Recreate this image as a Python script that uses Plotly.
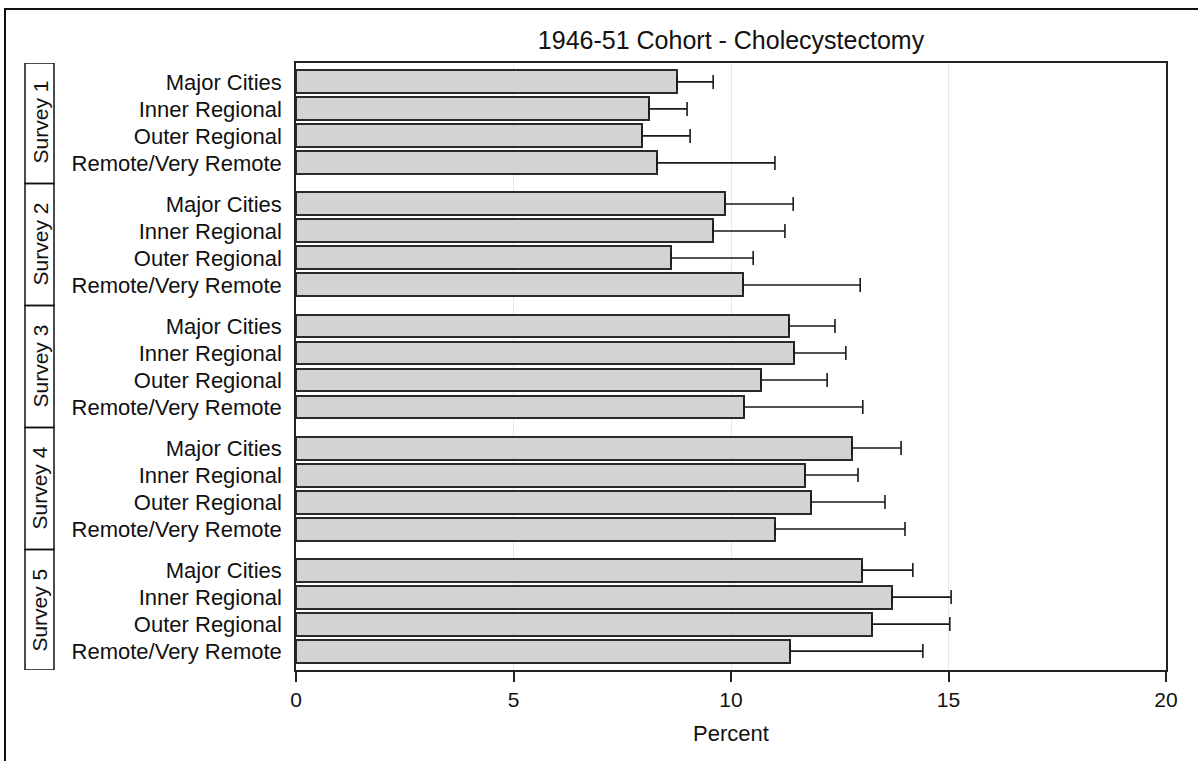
import plotly.graph_objects as go

# ---------------- data ----------------
surveys = ["Survey 1", "Survey 2", "Survey 3", "Survey 4", "Survey 5"]
regions = ["Major Cities", "Inner Regional", "Outer Regional", "Remote/Very Remote"]

pct_survey1 = [8.76, 8.11, 7.95, 8.30]
pct_survey2 = [9.86, 9.59, 8.62, 10.28]
pct_survey3 = [11.33, 11.45, 10.69, 10.30]
pct_survey4 = [12.78, 11.70, 11.84, 11.01]
pct_survey5 = [13.01, 13.70, 13.24, 11.36]

upper_survey1 = [9.59, 8.99, 9.06, 11.01]
upper_survey2 = [11.43, 11.24, 10.51, 12.97]
upper_survey3 = [12.39, 12.64, 12.21, 13.03]
upper_survey4 = [13.91, 12.92, 13.54, 14.00]
upper_survey5 = [14.18, 15.06, 15.03, 14.41]

x_ticks = [0, 5, 10, 15, 20]
title_text = "1946-51 Cohort - Cholecystectomy"
x_title = "Percent"

# ---------------- layout helpers ----------------
pcts = [pct_survey1, pct_survey2, pct_survey3, pct_survey4, pct_survey5]
uppers = [upper_survey1, upper_survey2, upper_survey3, upper_survey4, upper_survey5]

GAP = 0.52
EDGE = 0.70
stride = len(regions) + GAP

ypos, xs, err_plus, labels = [], [], [], []
for g, (vals, ups) in enumerate(zip(pcts, uppers)):
    for i, (v, u) in enumerate(zip(vals, ups)):
        ypos.append(g * stride + i)
        xs.append(v)
        err_plus.append(u - v)
        labels.append(regions[i])

y_top = -EDGE
y_bot = (len(surveys) - 1) * stride + len(regions) - 1 + EDGE

FONT = "Arial, Liberation Sans, Helvetica, sans-serif"

fig = go.Figure()
fig.add_trace(go.Bar(
    x=xs, y=ypos, orientation="h", width=0.85,
    marker=dict(color="#d3d3d3", line=dict(color="#2a2a2a", width=2)),
    error_x=dict(type="data", symmetric=False, array=err_plus,
                 arrayminus=[0] * len(err_plus),
                 color="#1a1a1a", thickness=1.6, width=7),
    showlegend=False, hoverinfo="x+y",
))

L, R, T, B = 296, 32, 63, 91
W, H = 1198, 761
pw = W - L - R
ph = H - T - B

def px2paperx(px):
    return (px - L) / pw

def py2papery(py):
    return (H - B - py) / ph

shapes = []
# outer frame (left and top visible)
shapes.append(dict(type="rect", xref="paper", yref="paper",
                   x0=px2paperx(5), x1=px2paperx(1215),
                   y0=py2papery(780), y1=py2papery(9),
                   line=dict(color="#111111", width=2), layer="above"))

annotations = []
bounds = [y_top]
for g in range(len(surveys) - 1):
    bounds.append(g * stride + len(regions) - 1 + 0.5 + GAP / 2)
bounds.append(y_bot)
for g, s in enumerate(surveys):
    shapes.append(dict(type="rect", xref="paper", yref="y",
                       x0=px2paperx(25), x1=px2paperx(54),
                       y0=bounds[g], y1=bounds[g + 1],
                       line=dict(color="#111111", width=1.5)))
    annotations.append(dict(text=s, xref="paper", yref="y",
                            x=px2paperx(40), y=g * stride + (len(regions) - 1) / 2,
                            textangle=-90, showarrow=False,
                            font=dict(family=FONT, size=21, color="#111111"),
                            xanchor="center", yanchor="middle"))

annotations.append(dict(text=x_title, xref="paper", yref="paper",
                        x=0.5, y=py2papery(733), showarrow=False,
                        xanchor="center", yanchor="middle",
                        font=dict(family=FONT, size=22, color="#111111")))

fig.update_layout(
    width=W, height=H,
    margin=dict(l=L, r=R, t=T, b=B),
    paper_bgcolor="white", plot_bgcolor="white",
    title=dict(text=title_text, x=0.5, xref="paper", xanchor="center",
               y=1 - 40 / H, yref="container", yanchor="middle",
               font=dict(family=FONT, size=25, color="#111111")),
    font=dict(family=FONT, color="#111111"),
    shapes=shapes, annotations=annotations,
    bargap=0,
)

fig.update_xaxes(range=[x_ticks[0], x_ticks[-1]], tickvals=x_ticks,
                 ticktext=[str(t) for t in x_ticks],
                 showgrid=True, gridcolor="#e8e8e8", gridwidth=1,
                 showline=True, linecolor="#222222", linewidth=1.5, mirror=True,
                 ticks="outside", ticklen=10, tickwidth=1.5, tickcolor="#222222",
                 tickfont=dict(family=FONT, size=21, color="#111111"),
                 zeroline=False)

fig.update_yaxes(range=[y_bot, y_top], tickvals=ypos, ticktext=labels,
                 showgrid=False, zeroline=False,
                 showline=True, linecolor="#222222", linewidth=1.5, mirror=True,
                 ticks="", ticklabelstandoff=8,
                 tickfont=dict(family=FONT, size=22, color="#111111"))

fig.write_html("out.html")
